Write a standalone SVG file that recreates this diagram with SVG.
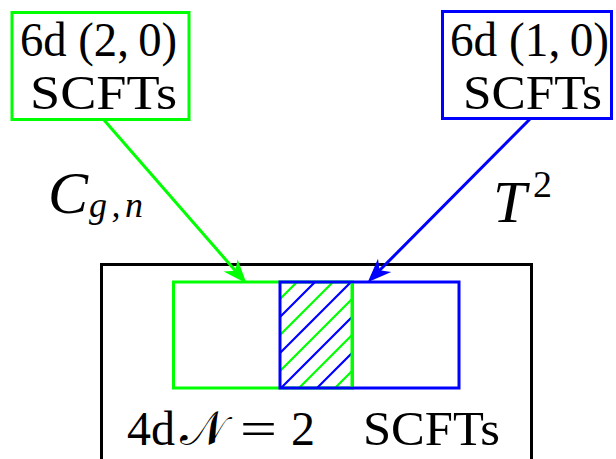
<svg xmlns="http://www.w3.org/2000/svg" width="616" height="459" viewBox="0 0 616 459">
<style>
.t{font-family:"Liberation Serif","DejaVu Serif",serif;fill:#000}
.box{fill:none;stroke-width:3}
.g{stroke:#00ff00}
.b{stroke:#0000ff}
.k{stroke:#000}
.i{font-style:italic}
</style>
<defs>
<pattern id="hatch" patternUnits="userSpaceOnUse" x="0" y="0" width="36" height="36">
<g stroke-width="2.2" fill="none">
<path d="M-10,13 L46,-43 M-10,49 L46,-7" stroke="#00ff00"/>
<path d="M-10,31 L46,-25 M-10,67 L46,11" stroke="#0000ff"/>
</g>
</pattern>
<marker id="ag" markerUnits="userSpaceOnUse" orient="auto" markerWidth="40" markerHeight="40" refX="0" refY="0" viewBox="-30 -15 45 30" overflow="visible">
<path d="M8,0 L-19,-10.5 L-11,0 L-19,10.5 Z" fill="#00ff00"/>
</marker>
<marker id="ab" markerUnits="userSpaceOnUse" orient="auto" markerWidth="40" markerHeight="40" refX="0" refY="0" viewBox="-30 -15 45 30" overflow="visible">
<path d="M8,0 L-19,-10.5 L-11,0 L-19,10.5 Z" fill="#0000ff"/>
</marker>
</defs>

<g id="node-6d20">
<rect class="box g" x="12" y="12.5" width="177" height="107"/>
<text class="t" font-size="48" text-anchor="middle" x="98.5" y="56" textLength="157" lengthAdjust="spacingAndGlyphs">6d (2,&#8201;0)</text>
<text class="t" font-size="48" text-anchor="middle" x="103.5" y="109" textLength="147" lengthAdjust="spacingAndGlyphs">SCFTs</text>
</g>

<g id="node-6d10">
<rect class="box b" x="442.5" y="11.5" width="169" height="107"/>
<text class="t" font-size="48" text-anchor="middle" x="529.5" y="56" textLength="159" lengthAdjust="spacingAndGlyphs">6d (1,&#8201;0)</text>
<text class="t" font-size="48" text-anchor="middle" x="532.5" y="109" textLength="139" lengthAdjust="spacingAndGlyphs">SCFTs</text>
</g>

<g id="node-4d">
<path class="box k" d="M101.5,462 V264.5 H531.5 V462"/>
<rect class="box g" x="173.5" y="282" width="179" height="106"/>
<rect x="280" y="282" width="72" height="106" fill="url(#hatch)"/>
<rect class="box b" x="280" y="282" width="179" height="106"/>
<line class="g" stroke-width="3" x1="352" y1="283.5" x2="352" y2="386.5"/>
<text class="t" font-size="48" y="445"><tspan x="127">4d</tspan><tspan x="180" textLength="46" lengthAdjust="spacingAndGlyphs">𝒩</tspan><tspan x="240" textLength="37" lengthAdjust="spacingAndGlyphs">=</tspan><tspan x="291">2</tspan><tspan x="363" textLength="137" lengthAdjust="spacingAndGlyphs">SCFTs</tspan></text>
</g>

<g id="connectors">
<line x1="104" y1="120" x2="241.7" y2="278" stroke="#00ff00" stroke-width="3" marker-end="url(#ag)"/>
<line x1="530" y1="119" x2="372.7" y2="277.3" stroke="#0000ff" stroke-width="3" marker-end="url(#ab)"/>
<text class="t i" font-size="60" x="48" y="213">C</text>
<text class="t i" font-size="36" x="89" y="217" textLength="54" lengthAdjust="spacing">g,n</text>
<text class="t i" font-size="60" x="493" y="222">T</text>
<text class="t" font-size="38" x="533" y="197">2</text>
</g>
</svg>
